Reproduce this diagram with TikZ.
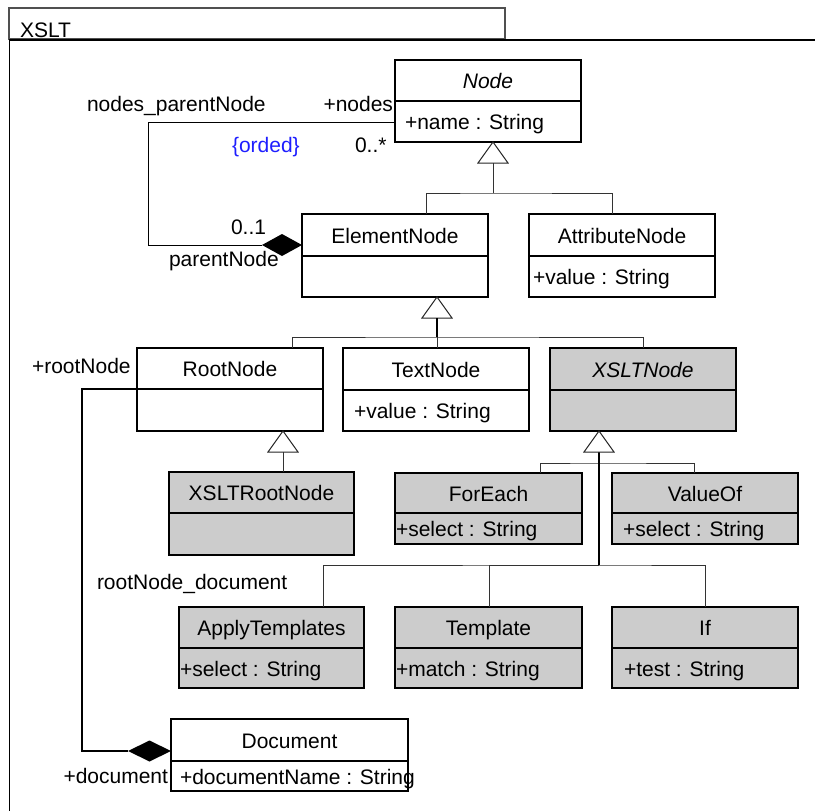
\documentclass[tikz,border=0pt]{standalone}
\usepackage{fontspec}
\setmainfont{Liberation Sans}
\usetikzlibrary{calc}

\definecolor{boxgray}{HTML}{CCCCCC}
\definecolor{tabgray}{HTML}{505050}
\definecolor{constraint}{HTML}{1E1EFF}

\def\attrinset{9}
\tikzset{
  x=1pt, y=-1pt,
  txt/.style={font=\fontsize{21}{25}\selectfont, inner sep=0pt, outer sep=0pt},
  inset/.code={\gdef\attrinset{#1}},
  classbox/.style={draw=black, line width=1.3pt, inner sep=0pt, outer sep=0pt, fill=white},
  plain/.style={},
  shaded/.style={fill=boxgray},
  classrule/.style={draw=black, line width=1.1pt},
  gentri/.style={draw=black!85, line width=1pt, fill=white},
  genline/.style={draw=black!80, line width=1pt},
  trunk/.style={draw=black, line width=2.2pt},
  assocthin/.style={draw=black, line width=1pt},
  assocthick/.style={draw=black, line width=2pt},
}

% #1 id, #2 box options, #3 left, #4 top, #5 width, #6 header height,
% #7 total height, #8 class name, #9 attribute line
\newcommand\umlclass[9]{%
  \node[classbox, inset=9, #2, minimum width=#5, minimum height=#7, anchor=north west] (#1) at (#3,#4) {};
  \draw[classrule] (#3,#4+#6) -- (#3+#5,#4+#6);
  \node[txt, anchor=base] (#1-name) at (#3+#5/2,#4+#6/2+8) {#8};
  \node[txt, anchor=base west] (#1-attr) at (#3+\attrinset,#4+#6/2+#7/2+8) {#9};
}

\begin{document}
\begin{tikzpicture}
\useasboundingbox (0,0) rectangle (815,811);

% package frame with its name tab
\draw[tabgray, line width=1.3pt, fill=white] (9,8) rectangle (505,39);
\node[txt, anchor=base west] (pkgname) at (20,37) {XSLT};
\draw[black, line width=1.5pt] (820,40) -- (9.5,40) -- (9.5,820);

% classes
\umlclass{Node}{plain, inset=10}{395}{60}{186}{41}{82}{\itshape Node}{+name : String}
\umlclass{ElementNode}{plain}{302}{214}{186}{42}{83}{ElementNode}{}
\umlclass{AttributeNode}{plain, inset=4}{529}{214}{186}{42}{83}{AttributeNode}{+value : String}
\umlclass{RootNode}{plain}{137}{348}{186}{41}{83}{RootNode}{}
\umlclass{TextNode}{plain, inset=11}{343}{348}{186}{42}{83}{TextNode}{+value : String}
\umlclass{XSLTNode}{shaded}{550}{348}{186}{42}{83}{\itshape XSLTNode}{}
\umlclass{XSLTRootNode}{shaded}{169}{472}{185}{41}{83}{XSLTRootNode}{}
\umlclass{ForEach}{shaded, inset=1}{395}{473}{187}{40}{71}{ForEach}{+select : String}
\umlclass{ValueOf}{shaded, inset=11}{612}{473}{186}{40}{71}{ValueOf}{+select : String}
\umlclass{ApplyTemplates}{shaded, inset=1}{179}{607}{185}{41}{81}{ApplyTemplates}{+select : String}
\umlclass{Template}{shaded, inset=1}{395}{607}{187}{41}{81}{Template}{+match : String}
\umlclass{If}{shaded, inset=12}{612}{607}{186}{41}{81}{If}{+test : String}
\umlclass{Document}{plain}{171}{719}{237}{42}{72}{Document}{+documentName : String}

% generalization: Node
\coordinate (t1) at ($(Node.south)+(5,0)$);
\draw[gentri] (t1) -- ++(-15,21) -- ++(30,0) -- cycle;
\draw[genline] ($(t1)+(0,21)$) -- ++(0,30) coordinate (j1);
\draw[genline] ($(ElementNode.north)+(31,0)$) |- (j1) -| ($(AttributeNode.north)+(-10,0)$);

% generalization: ElementNode
\coordinate (t2) at ($(ElementNode.south)+(42,0)$);
\draw[gentri] (t2) -- ++(-15,21) -- ++(30,0) -- cycle;
\draw[trunk] ($(t2)+(0,21)$) -- ++(0,19) coordinate (j2);
\draw[genline] (j2) -- (j2 |- TextNode.north);
\draw[genline] ($(RootNode.north)+(62,0)$) |- (j2) -| (XSLTNode.north);

% generalization: RootNode
\coordinate (t3) at ($(RootNode.south)+(53,0)$);
\draw[gentri] (t3) -- ++(-15,21) -- ++(30,0) -- cycle;
\draw[genline] ($(t3)+(0,21)$) -- (t3 |- XSLTRootNode.north);

% generalization: XSLTNode
\coordinate (t4) at ($(XSLTNode.south)+(-44,0)$);
\coordinate (j4a) at ($(t4 |- ForEach.north)+(0,-10)$);
\coordinate (j4b) at ($(t4 |- Template.north)+(0,-42)$);
\draw[genline] ($(ForEach.north)+(51.5,0)$) |- (j4a) -| ($(ValueOf.north)+(-11,0)$);
\draw[genline] ($(ApplyTemplates.north)+(51.5,0)$) |- (j4b) -| (If.north);
\draw[genline] ($(Template.north)+(0.5,0)$) |- (j4b);
\draw[trunk] ($(t4)+(0,21)$) -- (j4b);
\draw[gentri] (t4) -- ++(-15,21) -- ++(30,0) -- cycle;

% association nodes_parentNode
\coordinate (a1s) at ($(Node.north west)+(0,62)$);
\coordinate (a1e) at ($(ElementNode.north west)+(0,31)$);
\draw[assocthin] (a1s) -- ++(-247,0) |- ($(a1e)+(-40,0)$);
\fill[black] (a1e) -- ++(-20,-11) -- ++(-20,11) -- ++(20,11) -- cycle;

% association rootNode_document
\coordinate (a2s) at ($(RootNode.north west)+(0,41)$);
\coordinate (a2e) at ($(Document.north west)+(0,32)$);
\draw[assocthick] (a2s) -- ++(-55,0) |- ($(a2e)+(-43,0)$);
\fill[black] (a2e) -- ++(-21.5,-10.5) -- ++(-21.5,10.5) -- ++(21.5,10.5) -- cycle;

% association labels
\node[txt, anchor=base west] (l-assoc1) at (87,111) {nodes\_parentNode};
\node[txt, anchor=base east] (l-nodes) at (393,111) {+nodes};
\node[txt, anchor=base west, text=constraint] (l-orded) at (232,152) {\{orded\}};
\node[txt, anchor=base west] (l-many) at (355,152) {0..*};
\node[txt, anchor=base west] (l-opt) at (231,234) {0..1};
\node[txt, anchor=base west] (l-parent) at (169,266) {parentNode};
\node[txt, anchor=base west] (l-root) at (32,373) {+rootNode};
\node[txt, anchor=base west] (l-assoc2) at (97,589) {rootNode\_document};
\node[txt, anchor=base east] (l-doc) at (168,783) {+document};
\end{tikzpicture}
\end{document}
